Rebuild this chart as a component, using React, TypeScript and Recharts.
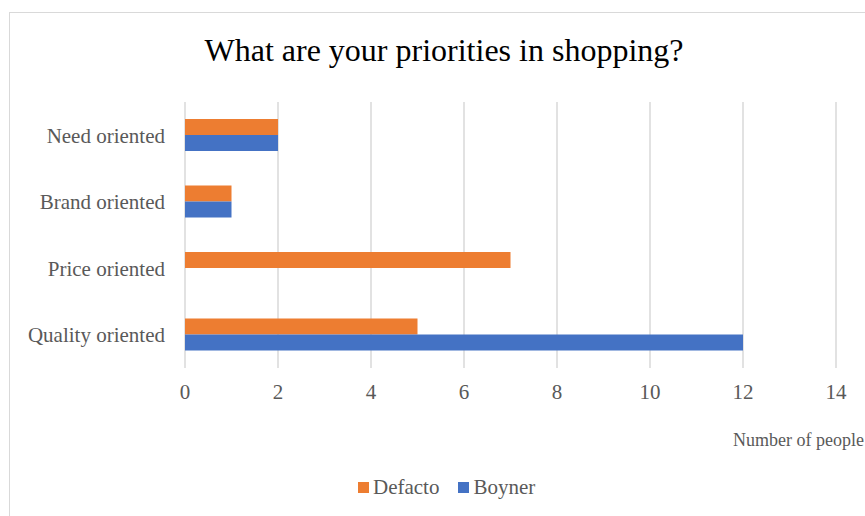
import { Bar, BarChart, CartesianGrid, XAxis, YAxis } from "recharts";

const categories = ["Need oriented", "Brand oriented", "Price oriented", "Quality oriented"];
const defacto = [2, 1, 7, 5];
const boyner = [2, 1, 0, 12];
const xTicks = [0, 2, 4, 6, 8, 10, 12, 14];

const FONT = "'Liberation Serif', 'Times New Roman', serif";
const ORANGE = "#ED7D31";
const BLUE = "#4472C4";

const data = categories.map((name, i) => ({ name, Defacto: defacto[i], Boyner: boyner[i] }));

const legendItems = [
  { label: "Defacto", color: ORANGE },
  { label: "Boyner", color: BLUE },
];

export default function App() {
  return (
    <div style={{ position: "absolute", left: 0, top: 0, width: 865, height: 516, background: "#fff", overflow: "hidden" }}>
      <div
        style={{
          position: "absolute",
          left: 9,
          top: 12,
          width: 900,
          height: 520,
          border: "1.5px solid #d9d9d9",
          boxSizing: "border-box",
        }}
      />
      <div
        style={{
          position: "absolute",
          left: 0,
          width: 888,
          top: 32,
          textAlign: "center",
          fontFamily: FONT,
          fontSize: 32,
          color: "#000",
          whiteSpace: "nowrap",
        }}
      >
        What are your priorities in shopping?
      </div>
      <div
        style={{
          position: "absolute",
          left: 733,
          top: 430,
          whiteSpace: "nowrap",
          fontFamily: FONT,
          fontSize: 18,
          color: "#595959",
        }}
      >
        Number of people
      </div>
      <div
        style={{
          position: "absolute",
          left: 358,
          top: 475,
          display: "flex",
          fontFamily: FONT,
          fontSize: 21,
          color: "#595959",
          whiteSpace: "nowrap",
        }}
      >
        {legendItems.map((it) => (
          <div key={it.label} style={{ display: "flex", alignItems: "center", marginRight: 19 }}>
            <span style={{ display: "inline-block", width: 11, height: 11, background: it.color, marginRight: 4 }} />
            <span>{it.label}</span>
          </div>
        ))}
      </div>
      <div style={{ position: "absolute", left: 0, top: 0 }}>
        <BarChart
          width={865}
          height={516}
          data={data}
          layout="vertical"
          margin={{ top: 102, right: 29, bottom: 118, left: 10 }}
          barGap={0}
          barSize={16}
        >
          <CartesianGrid horizontal={false} stroke="#d9d9d9" strokeWidth={1.5} />
          <XAxis
            type="number"
            domain={[0, 14]}
            ticks={xTicks}
            axisLine={false}
            tickLine={false}
            tickMargin={10}
            height={30}
            tick={{ fontFamily: FONT, fontSize: 21, fill: "#595959" }}
          />
          <YAxis
            type="category"
            dataKey="name"
            width={175}
            axisLine={false}
            tickLine={false}
            tickMargin={14}
            tick={{ fontFamily: FONT, fontSize: 21, fill: "#595959" }}
          />
          <Bar dataKey="Defacto" fill={ORANGE} isAnimationActive={false} />
          <Bar dataKey="Boyner" fill={BLUE} isAnimationActive={false} />
        </BarChart>
      </div>
    </div>
  );
}
